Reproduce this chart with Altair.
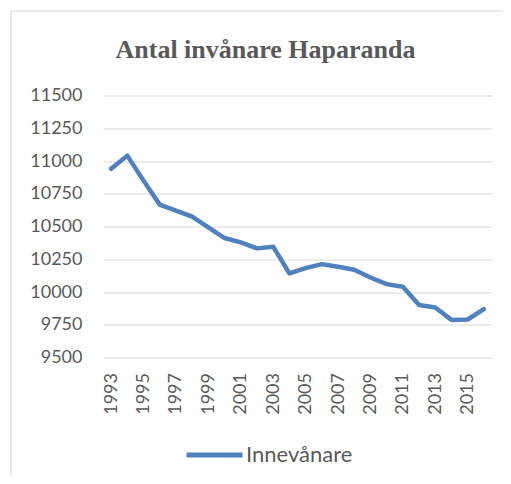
import altair as alt
import pandas as pd

years = list(range(1993, 2017))
inhabitants = [10940, 11041, 10850, 10667, 10621, 10575, 10493, 10412, 10379, 10333,
               10346, 10142, 10182, 10213, 10193, 10170, 10111, 10060, 10040, 9900,
               9882, 9787, 9790, 9869]
series_name = "Innevånare"
title_text = "Antal invånare Haparanda"
y_ticks = [9500, 9750, 10000, 10250, 10500, 10750, 11000, 11250, 11500]
x_label_years = years[::2]

df = pd.DataFrame({"year": years, "value": inhabitants, "series": [series_name] * len(years)})

W, H = 389, 262
grey = "#595959"

line = alt.Chart(df).mark_line(strokeWidth=4.5, strokeCap="round", strokeJoin="round").encode(
    x=alt.X("year:O", scale=alt.Scale(type="point", padding=0.5),
            axis=alt.Axis(title=None, values=x_label_years, labelAngle=270, domain=False,
                          ticks=False, tickSize=0, labelPadding=15, grid=False,
                          labelFont="Lato", labelFontSize=18, labelColor=grey)),
    y=alt.Y("value:Q", scale=alt.Scale(domain=[9500, 11500], nice=False, zero=False),
            axis=alt.Axis(title=None, values=y_ticks, format="d", domain=False, ticks=False,
                          tickSize=0, labelPadding=21, grid=True, gridColor="#d9d9d9",
                          gridWidth=1.2, labelFont="Lato", labelFontSize=18, labelColor=grey)),
    color=alt.Color("series:N", scale=alt.Scale(range=["#4F81BD"]),
                    legend=alt.Legend(title=None, orient="none", legendX=81, legendY=329,
                                      symbolType="stroke", symbolSize=3136, symbolStrokeWidth=5,
                                      labelFont="Lato", labelFontSize=22, labelColor=grey,
                                      labelOffset=1, padding=0)),
)

frame = pd.DataFrame({"k": [0]})
top_border = alt.Chart(frame).mark_rule(color="#d9d9d9", strokeWidth=1.2).encode(
    x=alt.value(-92), x2=alt.value(420), y=alt.value(-84.5))
left_border = alt.Chart(frame).mark_rule(color="#d9d9d9", strokeWidth=1.2).encode(
    x=alt.value(-92), y=alt.value(-84.5), y2=alt.value(400))

chart = alt.layer(top_border, left_border, line).properties(
    width=W, height=H,
    title=alt.TitleParams(title_text, font="Liberation Serif", fontSize=26, fontWeight="bold",
                          color=grey, anchor="middle", baseline="alphabetic", offset=-45.5,
                          dx=-32, dy=28),
    padding={"left": 95, "top": 87.5, "right": 11, "bottom": 118},
    autosize=alt.AutoSizeParams(type="none"),
).configure_view(stroke=None)

chart.save("out.html", embed_options={"renderer": "svg", "actions": False})
